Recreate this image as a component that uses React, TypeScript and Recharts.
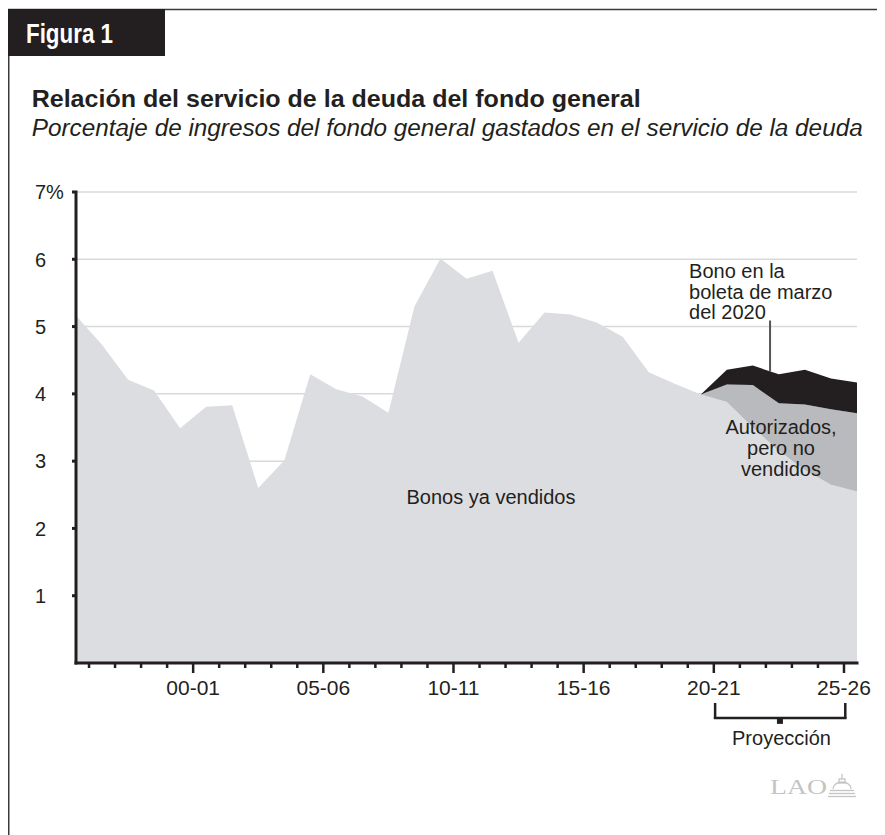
import React from 'react';
import {
  AreaChart,
  Area,
  XAxis,
  YAxis,
  CartesianGrid,
  ReferenceLine,
  ReferenceDot,
} from 'recharts';

// ---- Data ----
const years = [
  '95-96', '96-97', '97-98', '98-99', '99-00', '00-01', '01-02', '02-03', '03-04', '04-05',
  '05-06', '06-07', '07-08', '08-09', '09-10', '10-11', '11-12', '12-13', '13-14', '14-15',
  '15-16', '16-17', '17-18', '18-19', '19-20', '20-21', '21-22', '22-23', '23-24', '24-25',
  '25-26',
];

// Bonos ya vendidos (bonds already sold), % of general fund revenues
const soldBonds = [
  5.16, 4.73, 4.21, 4.05, 3.49, 3.81, 3.83, 2.6, 3.01, 4.29,
  4.07, 3.96, 3.72, 5.3, 6.01, 5.71, 5.83, 4.76, 5.21, 5.18,
  5.06, 4.85, 4.32, 4.15, 3.99, 3.88, 3.5, 3.15, 2.87, 2.65,
  2.55,
];

// Autorizados, pero no vendidos (authorized but unsold), projection only
const authorizedUnsold = [
  null, null, null, null, null, null, null, null, null, null,
  null, null, null, null, null, null, null, null, null, null,
  null, null, null, null, 0, 0.26, 0.63, 0.71, 0.97, 1.12,
  1.16,
];

// Bono en la boleta de marzo del 2020 (March 2020 ballot bond), projection only
const ballotBond = [
  null, null, null, null, null, null, null, null, null, null,
  null, null, null, null, null, null, null, null, null, null,
  null, null, null, null, 0, 0.22, 0.29, 0.43, 0.52, 0.46,
  0.46,
];

const yTicks = [1, 2, 3, 4, 5, 6, 7];
const xTicks = years.slice(1).map((_, i) => i + 0.5);

const data = years.map((year, i) => ({
  idx: i,
  year,
  sold: soldBonds[i],
  authorized: authorizedUnsold[i],
  ballot: ballotBond[i],
}));

// ---- Styles ----
const INK = '#231f20';
const LIGHT = '#dcdde0';
const MID = '#b9babd';
const GRID = '#d9d9d9';
const SANS = "'Liberation Sans', Arial, sans-serif";

const W = 877;
const H = 827;

const XTick = (props: any) => {
  const { x, y, payload } = props;
  const k = Math.round(payload.value - 0.5) + 1;
  const major = k % 5 === 0;
  return (
    <g>
      <line x1={x} x2={x} y1={y + 1} y2={y + (major ? 10 : 5)} stroke={INK} strokeWidth={2.5} />
      {major && (
        <text x={x} y={y + 32} textAnchor="middle" fontFamily={SANS} fontSize={21} fill={INK}>
          {years[k]}
        </text>
      )}
    </g>
  );
};

const YTick = (props: any) => {
  const { x, y, payload } = props;
  const label = payload.value === 7 ? '7%' : String(payload.value);
  return (
    <g>
      <line x1={x - 4} x2={x - 1} y1={y} y2={y} stroke={INK} strokeWidth={3} />
      <text x={27} y={y + 7.3} textAnchor="start" fontFamily={SANS} fontSize={20} fill={INK}>
        {label}
      </text>
    </g>
  );
};

const multiLine = (lines: string[], anchor: 'start' | 'middle' | 'end', lineHeight: number) =>
  (props: any) => {
    const vb = props.viewBox || {};
    const cx = (vb.x || 0) + (vb.width || 0) / 2;
    const cy = (vb.y || 0) + (vb.height || 0) / 2;
    return (
      <text x={cx} y={cy} textAnchor={anchor} fontFamily={SANS} fontSize={20} fill={INK}>
        {lines.map((l, i) => (
          <tspan key={i} x={cx} dy={i === 0 ? 0 : lineHeight}>
            {l}
          </tspan>
        ))}
      </text>
    );
  };

export default function App() {
  return (
    <div style={{ position: 'relative', width: W, height: H }}>
      <AreaChart
        width={W}
        height={H}
        data={data}
        margin={{ top: 184, right: 28, left: 0, bottom: 142 }}
      >
        <CartesianGrid horizontal vertical={false} stroke={GRID} strokeWidth={1.5} />
        <XAxis
          type="number"
          dataKey="idx"
          domain={[0, 30]}
          ticks={xTicks}
          interval={0}
          height={30}
          tickLine={false}
          tickSize={0}
          tickMargin={0}
          tick={(p: any) => <XTick {...p} />}
          axisLine={{ stroke: INK, strokeWidth: 3, strokeLinecap: 'square' } as any}
        />
        <YAxis
          type="number"
          domain={[0, 7]}
          ticks={yTicks}
          interval={0}
          width={68}
          tickLine={false}
          tickSize={0}
          tickMargin={0}
          tick={(p: any) => <YTick {...p} />}
          axisLine={{ stroke: INK, strokeWidth: 3, strokeLinecap: 'square' } as any}
        />
        <Area
          type="linear"
          dataKey="sold"
          stackId="a"
          fill={LIGHT}
          fillOpacity={1}
          stroke="none"
          isAnimationActive={false}
        />
        <Area
          type="linear"
          dataKey="authorized"
          stackId="a"
          fill={MID}
          fillOpacity={1}
          stroke="none"
          isAnimationActive={false}
        />
        <Area
          type="linear"
          dataKey="ballot"
          stackId="a"
          fill={INK}
          fillOpacity={1}
          stroke="none"
          isAnimationActive={false}
        />

        {/* leader line to ballot bond */}
        <ReferenceLine
          segment={[{ x: 26.66, y: 4.33 }, { x: 26.66, y: 5.09 }]}
          stroke="#555555"
          strokeWidth={2}
          ifOverflow="visible"
        />

        {/* Projection bracket */}
        <ReferenceLine
          segment={[{ x: 24.55, y: -0.594 }, { x: 24.55, y: -0.817 }]}
          stroke={INK}
          strokeWidth={2.5}
          ifOverflow="visible"
        />
        <ReferenceLine
          segment={[{ x: 29.55, y: -0.594 }, { x: 29.55, y: -0.817 }]}
          stroke={INK}
          strokeWidth={2.5}
          ifOverflow="visible"
        />
        <ReferenceLine
          segment={[{ x: 24.5, y: -0.817 }, { x: 29.6, y: -0.817 }]}
          stroke={INK}
          strokeWidth={2.5}
          ifOverflow="visible"
        />
        <ReferenceLine
          segment={[{ x: 27.04, y: -0.817 }, { x: 27.04, y: -0.905 }]}
          stroke={INK}
          strokeWidth={6}
          ifOverflow="visible"
        />

        <ReferenceDot
          x={15.94}
          y={2.363}
          r={1}
          fill="none"
          stroke="none"
          ifOverflow="visible"
          label={multiLine(['Bonos ya vendidos'], 'middle', 21)}
        />
        <ReferenceDot
          x={23.55}
          y={5.72}
          r={1}
          fill="none"
          stroke="none"
          ifOverflow="visible"
          label={multiLine(['Bono en la', 'boleta de marzo', 'del 2020'], 'start', 20.5)}
        />
        <ReferenceDot
          x={27.08}
          y={3.4}
          r={1}
          fill="none"
          stroke="none"
          ifOverflow="visible"
          label={multiLine(['Autorizados,', 'pero no', 'vendidos'], 'middle', 21)}
        />
        <ReferenceDot
          x={27.1}
          y={-1.219}
          r={1}
          fill="none"
          stroke="none"
          ifOverflow="visible"
          label={multiLine(['Proyección'], 'middle', 21)}
        />
      </AreaChart>

      <svg
        width={W}
        height={H}
        style={{ position: 'absolute', left: 0, top: 0, pointerEvents: 'none' }}
      >
        {/* frame */}
        <line x1={0} x2={W} y1={1.5} y2={1.5} stroke="#3a3a3a" strokeWidth={1.5} />
        <line x1={0.75} x2={0.75} y1={1} y2={H} stroke="#3a3a3a" strokeWidth={1.5} />
        <rect x={0} y={1} width={157} height={47} fill={INK} />
        <text
          x={18}
          y={35}
          fill="#ffffff"
          fontFamily={SANS}
          fontWeight="bold"
          fontSize={27}
          textLength={87}
          lengthAdjust="spacingAndGlyphs"
        >
          Figura 1
        </text>
        <text
          x={23.7}
          y={99.3}
          fill={INK}
          fontFamily={SANS}
          fontWeight="bold"
          fontSize={24}
          textLength={609}
          lengthAdjust="spacingAndGlyphs"
        >
          Relación del servicio de la deuda del fondo general
        </text>
        <text
          x={23.7}
          y={128}
          fill={INK}
          fontFamily={SANS}
          fontStyle="italic"
          fontSize={23.5}
          textLength={831}
          lengthAdjust="spacingAndGlyphs"
        >
          Porcentaje de ingresos del fondo general gastados en el servicio de la deuda
        </text>

        {/* LAO logo */}
        <text
          x={762}
          y={786}
          fill="#c4c4c4"
          fontFamily="'Liberation Serif', serif"
          fontSize={21}
          textLength={57}
          lengthAdjust="spacingAndGlyphs"
        >
          LAO
        </text>
        <g stroke="#c4c4c4" fill="none" strokeWidth={1.3}>
          <line x1={834} x2={834} y1={766} y2={771} />
          <rect x={831} y={771} width={6} height={4} />
          <path d="M 825 781 A 9 7 0 0 1 843 781" />
          <line x1={822} x2={846} y1={782.5} y2={782.5} />
          <line x1={821} x2={847} y1={785.5} y2={785.5} />
          <line x1={820} x2={848} y1={788.5} y2={788.5} />
        </g>
      </svg>
    </div>
  );
}
